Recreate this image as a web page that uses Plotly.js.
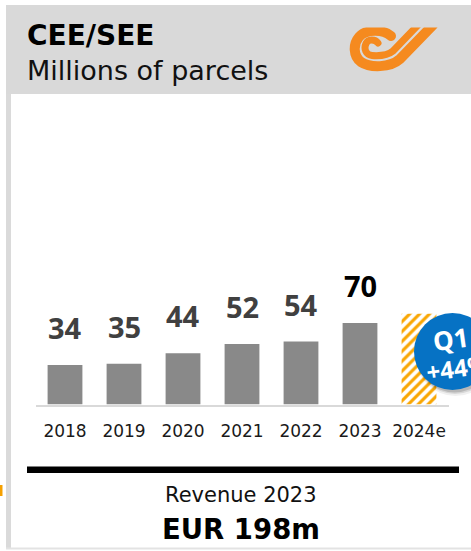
<!DOCTYPE html>
<html>
<head>
<meta charset="utf-8">
<script src="https://cdn.plot.ly/plotly-3.0.1.min.js"></script>
<style>html,body{margin:0;padding:0;background:#fff;}#chart{width:471px;height:551px;}</style>
</head>
<body>
<div id="chart"></div>
<script>
// ---- data ----
const years = ['2018', '2019', '2020', '2021', '2022', '2023', '2024e'];
const parcels = [34, 35, 44, 52, 54, 70, null];
const estimate = [null, null, null, null, null, null, 78];
const valueLabels = ['34', '35', '44', '52', '54', '70'];
const title = 'CEE/SEE';
const subtitle = 'Millions of parcels';
const revenueLabel = 'Revenue 2023';
const revenueValue = 'EUR 198m';
const badgeTop = 'Q1';
const badgeBottom = '+44%';

// ---- geometry helpers (pixel -> paper) ----
const W = 471, H = 551;
const X = p => p / W;
const Y = p => 1 - p / H;
const FONT = '"DejaVu Sans", "Noto Sans", sans-serif';
const FONT2 = '"Noto Sans", "Open Sans", sans-serif';

const baseY = 404.5, topY = 104, pxPerUnit = 1.165;
const yMax = (baseY - topY) / pxPerUnit;

const traces = [
  {
    type: 'bar', x: years, y: parcels,
    marker: {color: '#898989', line: {width: 0}},
    width: 0.59, hoverinfo: 'x+y'
  },
  {
    type: 'bar', x: years, y: estimate,
    marker: {color: '#ffffff', line: {width: 0},
      pattern: {shape: '/', fgcolor: '#f9a602', bgcolor: '#ffffff', size: 7, solidity: 0.45}},
    width: 0.59, hoverinfo: 'x+y'
  }
];

const annotations = [];
valueLabels.forEach((t, i) => {
  annotations.push({
    x: i, y: parcels[i], xref: 'x', yref: 'y',
    text: '<b>' + t + '</b>', showarrow: false,
    xanchor: 'center', yanchor: 'bottom', yshift: 16,
    font: {family: FONT2, size: 29, color: i === 5 ? '#000000' : '#404040'}
  });
});
annotations.push(
  {x: X(24.5), y: Y(35), xref: 'paper', yref: 'paper', text: '<b>' + title + '</b>', showarrow: false,
   xanchor: 'left', yanchor: 'middle', font: {family: FONT, size: 28, color: '#000'}},
  {x: X(24.5), y: Y(70), xref: 'paper', yref: 'paper', text: subtitle, showarrow: false,
   xanchor: 'left', yanchor: 'middle', font: {family: FONT, size: 27, color: '#111'}},
  {x: X(241), y: Y(495), xref: 'paper', yref: 'paper', text: revenueLabel, showarrow: false,
   xanchor: 'center', yanchor: 'middle', font: {family: FONT, size: 21, color: '#111'}},
  {x: X(241), y: Y(528.5), xref: 'paper', yref: 'paper', text: '<b>' + revenueValue + '</b>', showarrow: false,
   xanchor: 'center', yanchor: 'middle', font: {family: FONT, size: 27.5, color: '#000'}},
  {x: X(450), y: Y(339), xref: 'paper', yref: 'paper', text: '<b>' + badgeTop + '</b>', showarrow: false,
   xanchor: 'center', yanchor: 'middle', textangle: -8, font: {family: FONT2, size: 26, color: '#fff'}},
  {x: X(422), y: Y(367), xref: 'paper', yref: 'paper', text: '<b>' + badgeBottom + '</b>', showarrow: false,
   xanchor: 'left', yanchor: 'middle', textangle: -8, font: {family: FONT2, size: 24, color: '#fff'}}
);

const rect = (x0, y0, x1, y1, color, layer) => ({
  type: 'rect', xref: 'paper', yref: 'paper', x0: X(x0), x1: X(x1), y0: Y(y1), y1: Y(y0),
  fillcolor: color, line: {width: 0}, layer: layer || 'below'
});
const circ = (cx, cy, r, color, layer) => ({
  type: 'circle', xref: 'paper', yref: 'paper', x0: X(cx - r), x1: X(cx + r), y0: Y(cy + r), y1: Y(cy - r),
  fillcolor: color, line: {width: 0}, layer: layer || 'above'
});

const shapes = [
  rect(6, 5, 471, 94, '#d9d9d9'),
  rect(6, 94, 11, 549, '#dadada'),
  rect(6, 547.5, 471, 549.5, '#e3e3e3'),
  rect(0, 485, 2.5, 496, '#f5a000'),
  rect(27, 466.5, 459, 473, '#000000'),
  // badge shadow + badge
  circ(455.5, 356, 40, 'rgba(0,0,0,0.06)'),
  circ(455, 355, 39, 'rgba(0,0,0,0.10)'),
  circ(454.5, 354, 38.5, 'rgba(0,0,0,0.14)'),
  circ(452.5, 351.5, 38.5, '#0672c4')
];

// decorative logo: two nested curled bands ending in parallel diagonals
const logoSvg =
  '<svg xmlns="http://www.w3.org/2000/svg" viewBox="340 20 110 55" width="110" height="55">' +
  '<defs><clipPath id="c"><rect x="340" y="27.5" width="110" height="50"/></clipPath></defs>' +
  '<g fill="none" stroke="#f58a1f" stroke-linejoin="round" clip-path="url(#c)">' +
  '<path stroke-width="10" stroke-linecap="round" d="M391,36 C383,29 366,29 359,37 C353,44 353,56 361,62 C370,68 390,68 400,59 L433,25"/>' +
  '<path stroke-width="7" stroke-linecap="round" d="M378,43 C375,39 368,39 366,43.5 C363.5,49 366,55 372,55.5 C379,56 387,56 393,51 L418,25"/>' +
  '</g></svg>';

const images = [{
  source: 'data:image/svg+xml;charset=utf-8,' + encodeURIComponent(logoSvg),
  xref: 'paper', yref: 'paper', x: X(340), y: Y(20), sizex: 110 / W, sizey: 55 / H,
  xanchor: 'left', yanchor: 'top', sizing: 'stretch', layer: 'above'
}];

const layout = {
  width: W, height: H,
  margin: {l: 0, r: 0, t: 0, b: 0, pad: 0},
  paper_bgcolor: '#ffffff', plot_bgcolor: 'rgba(0,0,0,0)',
  showlegend: false, barmode: 'overlay',
  font: {family: FONT},
  xaxis: {
    type: 'category', domain: [X(35.5), X(448.5)], range: [-0.5, 6.5], autorange: false,
    showline: true, linecolor: '#d9d9d9', linewidth: 2,
    ticks: '', showgrid: false, zeroline: false, fixedrange: true,
    tickfont: {family: FONT, size: 17, color: '#1a1a1a'}, ticklabelstandoff: 10
  },
  yaxis: {
    range: [0, yMax], autorange: false, domain: [Y(baseY), Y(topY)], visible: false, fixedrange: true
  },
  annotations: annotations, shapes: shapes, images: images
};

Plotly.newPlot('chart', traces, layout, {displayModeBar: false, staticPlot: true});
</script>
</body>
</html>
